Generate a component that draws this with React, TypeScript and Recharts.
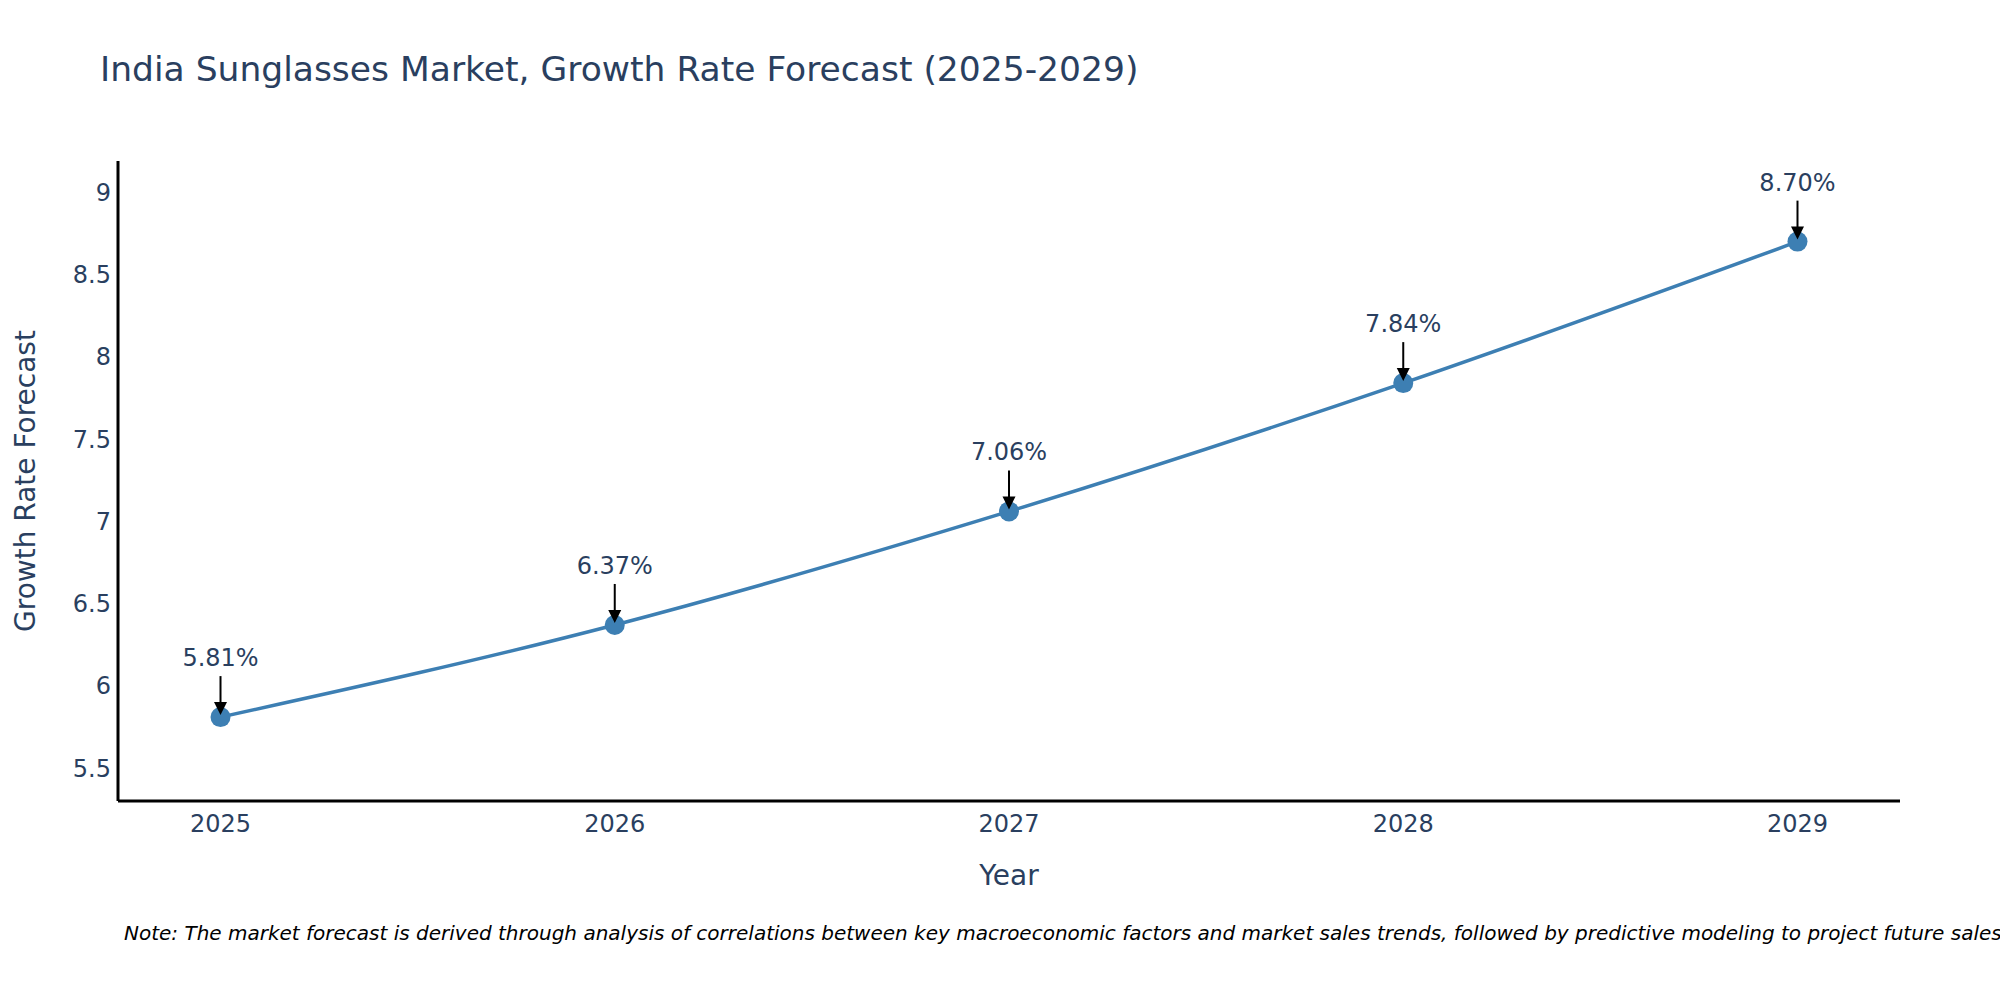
import React from "react";
import { LineChart, Line, XAxis, YAxis, LabelList } from "recharts";

const years = [2025, 2026, 2027, 2028, 2029];
const growth = [5.81, 6.37, 7.06, 7.84, 8.7];
const yTicks = [5.5, 6, 6.5, 7, 7.5, 8, 8.5, 9];

const TITLE = "India Sunglasses Market, Growth Rate Forecast (2025-2029)";
const X_TITLE = "Year";
const Y_TITLE = "Growth Rate Forecast";
const NOTE =
  "Note: The market forecast is derived through analysis of correlations between key macroeconomic factors and market sales trends, followed by predictive modeling to project future sales.";

const data = years.map((year, i) => ({ year, growth: growth[i] }));

const FONT = "'DejaVu Sans', Verdana, sans-serif";
const TEXT = "#2a3f5f";
const LINE = "#3d7fb3";

const Annotation = (props: any) => {
  const { x, y, value } = props;
  const lx = Number(x);
  const ly = Number(y);
  return (
    <g>
      <text
        x={lx}
        y={ly - 51}
        textAnchor="middle"
        fontSize={24}
        fill={TEXT}
        fontFamily={FONT}
      >
        {`${Number(value).toFixed(2)}%`}
      </text>
      <line x1={lx} y1={ly - 41} x2={lx} y2={ly - 14} stroke="#000" strokeWidth={2} />
      <polygon
        points={`${lx - 6.5},${ly - 15} ${lx + 6.5},${ly - 15} ${lx},${ly - 2}`}
        fill="#000"
      />
    </g>
  );
};

export default function App() {
  return (
    <div style={{ position: "relative", width: 2000, height: 1000, background: "#fff" }}>
      <style>{`body{margin:0;}`}</style>
      <LineChart
        width={2000}
        height={1000}
        data={data}
        margin={{ top: 161, right: 100, bottom: 139, left: 0 }}
      >
        <XAxis
          dataKey="year"
          type="number"
          domain={[2024.74, 2029.26]}
          ticks={years}
          allowDataOverflow
          tickLine={false}
          tickSize={0}
          tickMargin={14}
          height={60}
          axisLine={{ stroke: "#000", strokeWidth: 3 }}
          tick={{ fill: TEXT, fontSize: 24, fontFamily: FONT }}
        />
        <YAxis
          type="number"
          domain={[5.3, 9.19]}
          ticks={yTicks}
          allowDataOverflow
          tickLine={false}
          tickSize={0}
          tickMargin={7}
          width={118}
          axisLine={{ stroke: "#000", strokeWidth: 3 }}
          tick={{ fill: TEXT, fontSize: 24, fontFamily: FONT }}
        />
        <Line
          type="monotone"
          dataKey="growth"
          stroke={LINE}
          strokeWidth={3.5}
          dot={{ r: 10, fill: LINE, stroke: LINE, strokeWidth: 0 }}
          activeDot={false}
          isAnimationActive={false}
        >
          <LabelList dataKey="growth" content={Annotation} />
        </Line>
      </LineChart>
      <svg
        width={2000}
        height={1000}
        style={{ position: "absolute", left: 0, top: 0, pointerEvents: "none" }}
      >
        <text x={100} y={81} fontSize={34.5} fill={TEXT} fontFamily={FONT}>
          {TITLE}
        </text>
        <text
          x={1009}
          y={885}
          fontSize={28}
          fill={TEXT}
          fontFamily={FONT}
          textAnchor="middle"
        >
          {X_TITLE}
        </text>
        <text
          transform="translate(35,481) rotate(-90)"
          fontSize={28}
          fill={TEXT}
          fontFamily={FONT}
          textAnchor="middle"
        >
          {Y_TITLE}
        </text>
        <text
          x={124}
          y={940}
          fontSize={20}
          fill="#000"
          fontStyle="italic"
          fontFamily={FONT}
        >
          {NOTE}
        </text>
      </svg>
    </div>
  );
}
